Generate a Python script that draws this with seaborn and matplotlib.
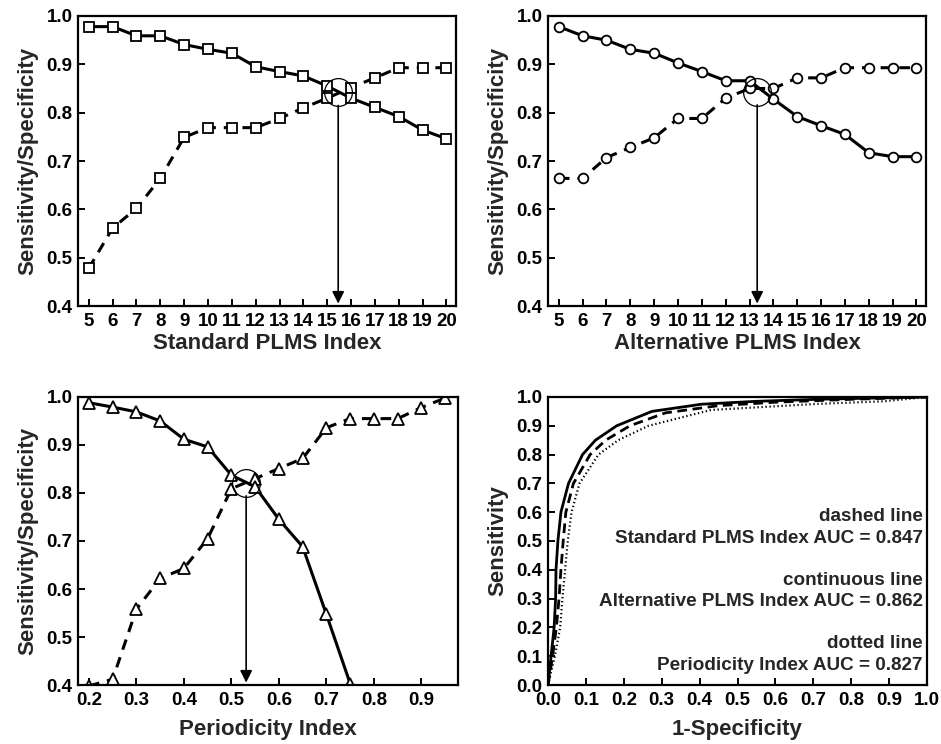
import numpy as np
import pandas as pd
import matplotlib
matplotlib.use("Agg")
import matplotlib.pyplot as plt
from matplotlib.ticker import FormatStrFormatter, MultipleLocator
import seaborn as sns

# Panel A: Standard PLMS Index
std_index = [5, 6, 7, 8, 9, 10, 11, 12, 13, 14, 15, 16, 17, 18, 19, 20]
std_solid = [0.978, 0.978, 0.959, 0.959, 0.941, 0.931, 0.923, 0.895, 0.885, 0.876,
             0.855, 0.830, 0.811, 0.792, 0.764, 0.746]
std_dashed = [0.478, 0.561, 0.602, 0.664, 0.749, 0.769, 0.769, 0.769, 0.788, 0.810,
              0.830, 0.852, 0.872, 0.893, 0.893, 0.893]
std_cut = (15.46, 0.842)

# Panel B: Alternative PLMS Index
alt_index = [5, 6, 7, 8, 9, 10, 11, 12, 13, 14, 15, 16, 17, 18, 19, 20]
alt_solid = [0.978, 0.959, 0.950, 0.931, 0.923, 0.903, 0.885, 0.866, 0.866, 0.828,
             0.792, 0.773, 0.755, 0.717, 0.709, 0.709]
alt_dashed = [0.664, 0.664, 0.707, 0.728, 0.748, 0.788, 0.788, 0.830, 0.850, 0.850,
              0.872, 0.872, 0.893, 0.893, 0.893, 0.893]
alt_cut = (13.32, 0.843)

# Panel C: Periodicity Index
per_solid_x = [0.20, 0.25, 0.30, 0.35, 0.40, 0.45, 0.50, 0.55, 0.60, 0.65, 0.70, 0.75]
per_solid = [0.988, 0.979, 0.969, 0.950, 0.912, 0.896, 0.837, 0.813, 0.745, 0.688, 0.547, 0.403]
per_dashed_x = [0.20, 0.25, 0.30, 0.35, 0.40, 0.45, 0.50, 0.55, 0.60, 0.65, 0.70, 0.75,
                0.80, 0.85, 0.90, 0.95]
per_dashed = [0.398, 0.412, 0.558, 0.622, 0.643, 0.705, 0.809, 0.830, 0.851, 0.872, 0.936,
              0.955, 0.955, 0.955, 0.978, 0.998]
per_cut = (0.531, 0.821)

# Panel D: ROC curves (1-specificity, sensitivity)
roc_alt_fpr = [0, 0.008, 0.016, 0.020, 0.021, 0.026, 0.034, 0.054, 0.091, 0.125, 0.181,
               0.274, 0.405, 0.55, 0.71, 0.885, 1.0]
roc_alt_tpr = [0, 0.1, 0.2, 0.3, 0.4, 0.5, 0.6, 0.7, 0.8, 0.85, 0.9, 0.95, 0.975, 0.985,
               0.992, 0.997, 1.0]
roc_std_fpr = [0, 0.012, 0.022, 0.029, 0.034, 0.040, 0.047, 0.067, 0.111, 0.152, 0.216,
               0.31, 0.45, 0.6, 0.8, 1.0]
roc_std_tpr = [0, 0.1, 0.2, 0.3, 0.4, 0.5, 0.6, 0.7, 0.8, 0.85, 0.9, 0.945, 0.97, 0.982,
               0.992, 1.0]
roc_per_fpr = [0, 0.018, 0.032, 0.038, 0.045, 0.052, 0.062, 0.083, 0.133, 0.185, 0.265,
               0.43, 0.709, 0.885, 1.0]
roc_per_tpr = [0, 0.1, 0.2, 0.3, 0.4, 0.5, 0.6, 0.7, 0.8, 0.85, 0.9, 0.955, 0.976, 0.985, 1.0]

roc_notes = ["dashed line", "Standard PLMS Index AUC = 0.847",
             "continuous line", "Alternative PLMS Index AUC = 0.862",
             "dotted line", "Periodicity Index AUC = 0.827"]
roc_note_y = [0.584, 0.509, 0.364, 0.291, 0.145, 0.069]

sns.set_style("ticks")
plt.rcParams['font.family'] = ['Liberation Sans', 'DejaVu Sans']
plt.rcParams['font.weight'] = 'bold'
plt.rcParams['axes.labelweight'] = 'bold'

fig = plt.figure(figsize=(9.41, 7.44), dpi=100)
ax_a = fig.add_axes([0.0829, 0.5887, 0.4017, 0.3898])
ax_b = fig.add_axes([0.5824, 0.5887, 0.4017, 0.3898])
ax_c = fig.add_axes([0.0829, 0.0793, 0.4038, 0.3871])
ax_d = fig.add_axes([0.5824, 0.0793, 0.4028, 0.3871])

DASH = (0, (3.5, 2.6))
LW = 2.2
TICK_FS = 13.5
LABEL_FS = 16


def style_axes(ax):
    for s in ax.spines.values():
        s.set_linewidth(1.6)
        s.set_color("black")
    ax.tick_params(direction="in", length=5, width=1.4, labelsize=TICK_FS, colors="black")
    ax.tick_params(axis="x", pad=5)
    ax.tick_params(axis="y", pad=4)
    for lab in ax.get_xticklabels() + ax.get_yticklabels():
        lab.set_fontweight("bold")


def crit_panel(ax, xs_s, ys_s, xs_d, ys_d, marker, cut, xlabel, ms=7):
    df_s = pd.DataFrame({"x": xs_s, "y": ys_s})
    df_d = pd.DataFrame({"x": xs_d, "y": ys_d})
    mk = dict(marker=marker, markersize=ms, markerfacecolor="white",
              markeredgecolor="black", markeredgewidth=1.3)
    sns.lineplot(data=df_d, x="x", y="y", ax=ax, color="black", lw=LW,
                 linestyle=DASH, errorbar=None, **mk)
    sns.lineplot(data=df_s, x="x", y="y", ax=ax, color="black", lw=LW,
                 errorbar=None, **mk)
    ax.plot([cut[0]], [cut[1]], marker="o", markersize=20, markerfacecolor="none",
            markeredgecolor="black", markeredgewidth=0.9, linestyle="none")
    ax.annotate("", xy=(cut[0], 0.405), xytext=(cut[0], cut[1] - 0.027),
                arrowprops=dict(arrowstyle="-|>", color="black", lw=1.2,
                                mutation_scale=18, shrinkA=0, shrinkB=0))
    ax.set_ylim(0.4, 1.0)
    ax.yaxis.set_major_locator(MultipleLocator(0.1))
    ax.yaxis.set_major_formatter(FormatStrFormatter("%.1f"))
    ax.set_xlabel(xlabel, fontsize=LABEL_FS, fontweight="bold", labelpad=2)
    ax.set_ylabel("Sensitivity/Specificity", fontsize=LABEL_FS, fontweight="bold",
                  labelpad=6)
    style_axes(ax)


crit_panel(ax_a, std_index, std_solid, std_index, std_dashed, "s", std_cut,
           "Standard PLMS Index")
ax_a.set_xlim(4.55, 20.4)
ax_a.set_xticks(std_index)

crit_panel(ax_b, alt_index, alt_solid, alt_index, alt_dashed, "o", alt_cut,
           "Alternative PLMS Index")
ax_b.set_xlim(4.55, 20.4)
ax_b.set_xticks(alt_index)

crit_panel(ax_c, per_solid_x, per_solid, per_dashed_x, per_dashed, "^", per_cut,
           "Periodicity Index", ms=8)
ax_c.set_xlim(0.177, 0.977)
ax_c.set_xticks([0.2, 0.3, 0.4, 0.5, 0.6, 0.7, 0.8, 0.9])
ax_c.xaxis.set_major_formatter(FormatStrFormatter("%.1f"))
ax_c.xaxis.labelpad = 7
style_axes(ax_c)

# ROC panel
roc_alt = pd.DataFrame({"fpr": roc_alt_fpr, "tpr": roc_alt_tpr})
roc_std = pd.DataFrame({"fpr": roc_std_fpr, "tpr": roc_std_tpr})
roc_per = pd.DataFrame({"fpr": roc_per_fpr, "tpr": roc_per_tpr})
sns.lineplot(data=roc_per, x="fpr", y="tpr", ax=ax_d, color="black", lw=1.6,
             linestyle=(0, (0.6, 1.2)), sort=False, errorbar=None)
sns.lineplot(data=roc_std, x="fpr", y="tpr", ax=ax_d, color="black", lw=2.0,
             linestyle=(0, (3.5, 2.0)), sort=False, errorbar=None)
sns.lineplot(data=roc_alt, x="fpr", y="tpr", ax=ax_d, color="black", lw=2.0,
             sort=False, errorbar=None)
for txt, yy in zip(roc_notes, roc_note_y):
    ax_d.text(0.989, yy, txt, ha="right", va="center", fontsize=13.6, fontweight="bold")
ax_d.set_xlim(0, 1)
ax_d.set_ylim(0, 1)
ax_d.xaxis.set_major_locator(MultipleLocator(0.1))
ax_d.yaxis.set_major_locator(MultipleLocator(0.1))
ax_d.xaxis.set_major_formatter(FormatStrFormatter("%.1f"))
ax_d.yaxis.set_major_formatter(FormatStrFormatter("%.1f"))
ax_d.set_xlabel("1-Specificity", fontsize=LABEL_FS, fontweight="bold", labelpad=7)
ax_d.set_ylabel("Sensitivity", fontsize=LABEL_FS, fontweight="bold", labelpad=6)
style_axes(ax_d)

fig.savefig("out.png", dpi=100)
